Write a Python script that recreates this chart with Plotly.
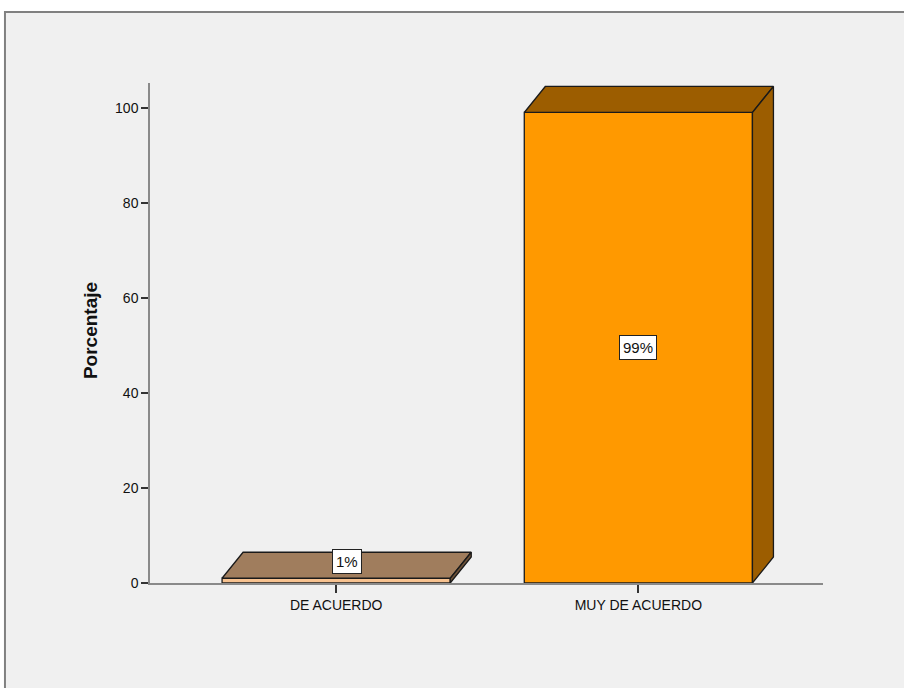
import plotly.graph_objects as go

categories = ["DE ACUERDO", "MUY DE ACUERDO"]
values = [1, 99]
labels = ["1%", "99%"]
front_colors = ["#f7c290", "#ff9900"]
top_colors = ["#a07d5d", "#9c5d00"]
side_colors = ["#6e5238", "#9c5d00"]
y_ticks = [0, 20, 40, 60, 80, 100]

positions = list(range(len(categories)))
half_w = 0.3775
dx = 0.0695
dy = 5.47
edge = "#1a1a1a"
FONT = "Liberation Sans, Arial"

fig = go.Figure()

for i, (pos, v) in enumerate(zip(positions, values)):
    x0, x1 = pos - half_w, pos + half_w
    fig.add_trace(go.Scatter(
        x=[x0, x1, x1, x0, x0], y=[0, 0, v, v, 0],
        fill="toself", fillcolor=front_colors[i], mode="lines",
        line=dict(color=edge, width=1.3), hoverinfo="skip", showlegend=False))
    fig.add_trace(go.Scatter(
        x=[x0, x1, x1 + dx, x0 + dx, x0], y=[v, v, v + dy, v + dy, v],
        fill="toself", fillcolor=top_colors[i], mode="lines",
        line=dict(color=edge, width=1.3), hoverinfo="skip", showlegend=False))
    fig.add_trace(go.Scatter(
        x=[x1, x1 + dx, x1 + dx, x1, x1], y=[0, dy, v + dy, v, 0],
        fill="toself", fillcolor=side_colors[i], mode="lines",
        line=dict(color=edge, width=1.3), hoverinfo="skip", showlegend=False))

label_pos = [(positions[0] + dx / 2, values[0] + dy / 2 + 0.8),
             (positions[1], values[1] / 2)]
for (lx, ly), t in zip(label_pos, labels):
    fig.add_annotation(x=lx, y=ly, text=t, showarrow=False,
                       font=dict(family=FONT, size=15, color="#111"),
                       bgcolor="white", bordercolor="#222", borderwidth=1, borderpad=3)

fig.add_annotation(x=-0.089, y=0.504, xref="paper", yref="paper", text="<b>Porcentaje</b>",
                   textangle=-90, showarrow=False, xanchor="center", yanchor="middle",
                   font=dict(family=FONT, size=19, color="#111"))

fig.add_shape(type="rect", xref="paper", yref="paper", x0=-0.2155, x1=1.3, y0=-0.4, y1=1.142,
              fillcolor="#f0f0f0", line=dict(color="#808080", width=2), layer="below")

fig.update_xaxes(range=[-0.616, 1.611], tickvals=positions, ticktext=categories,
                 showgrid=False, zeroline=False, showline=True, linecolor="#8a8a8a", linewidth=1.5,
                 ticks="outside", ticklen=8, tickwidth=1.5, tickcolor="#333",
                 tickfont=dict(family=FONT, size=14, color="#111"))
fig.update_yaxes(range=[0, 105.2], tickvals=y_ticks, showgrid=False, zeroline=False,
                 showline=True, linecolor="#8a8a8a", linewidth=1.5,
                 ticks="outside", ticklen=7, tickwidth=1.5, tickcolor="#333",
                 tickfont=dict(family=FONT, size=14, color="#111"))

fig.update_layout(width=904, height=688, margin=dict(l=150, r=81, t=83, b=105),
                  paper_bgcolor="white", plot_bgcolor="rgba(0,0,0,0)")

fig.write_html("out.html", config={"displayModeBar": False},
               post_script="document.body.style.margin='0';document.body.style.overflow='hidden';")
